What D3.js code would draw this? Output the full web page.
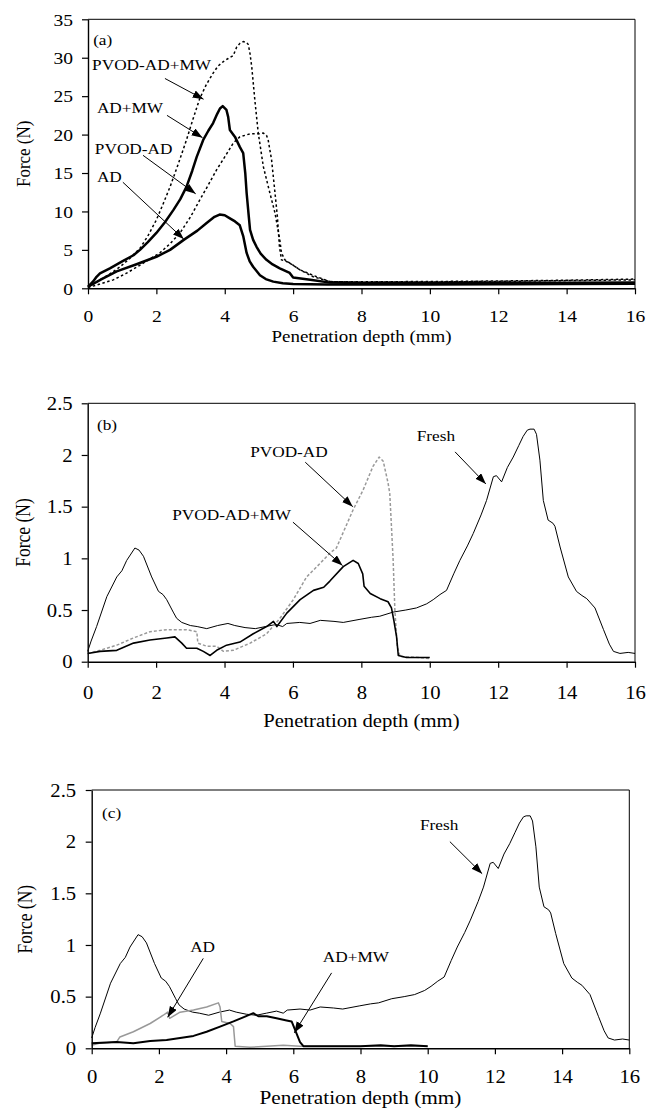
<!DOCTYPE html>
<html><head><meta charset="utf-8">
<script src="https://cdn.jsdelivr.net/npm/d3@7/dist/d3.min.js"></script>
<style>body{margin:0;background:#fff}svg{display:block}</style>
</head><body>
<script>
// ---------- DATA ----------
const xTicks = [0,2,4,6,8,10,12,14,16];
const yTicksA = [0,5,10,15,20,25,30,35];
const yTicksBC = [0,0.5,1,1.5,2,2.5];

// Panel (a)  [depth mm, force N]
const aAD = [[0,0.2],[0.4,1.2],[0.84,2.2],[1.4,3.1],[2.0,4.1],[2.4,5.0],[2.8,6.3],[3.2,7.5],[3.47,8.5],[3.7,9.3],[3.85,9.6],[4.0,9.5],[4.15,9.1],[4.3,8.7],[4.44,8.2],[4.54,6.8],[4.64,4.6],[4.73,3.5],[4.83,2.8],[5.03,1.7],[5.2,1.2],[5.42,0.87],[5.7,0.65],[6.0,0.56],[7,0.5],[8,0.5],[10,0.5],[12,0.52],[14,0.55],[16,0.6]];
const aADMW = [[0,0.2],[0.15,0.9],[0.25,1.5],[0.35,1.95],[0.64,2.6],[1.0,3.5],[1.33,4.3],[1.52,5.0],[1.75,6.0],[2.0,7.2],[2.25,8.6],[2.5,10.2],[2.7,11.6],[2.88,13.2],[3.05,15.3],[3.18,17.1],[3.37,19.3],[3.52,20.5],[3.66,21.5],[3.78,22.7],[3.86,23.4],[3.94,23.7],[4.05,23.2],[4.1,22.3],[4.15,20.6],[4.3,19.7],[4.44,18.4],[4.54,17.6],[4.6,15.0],[4.64,12.4],[4.7,9.5],[4.74,7.6],[4.83,6.3],[4.93,5.4],[5.05,4.5],[5.22,3.7],[5.4,3.1],[5.61,2.6],[5.9,2.0],[6.0,1.4],[6.5,1.1],[7.08,0.74],[8,0.7],[10,0.7],[12,0.72],[14,0.72],[16,0.75]];
const aPVOD = [[0,0.1],[0.35,0.55],[0.74,1.1],[1.1,1.9],[1.52,3.0],[1.8,3.8],[2.1,4.6],[2.4,5.8],[2.69,7.2],[3.0,9.3],[3.27,11.5],[3.5,13.3],[3.76,15.4],[4.0,17.1],[4.25,18.9],[4.44,19.7],[4.74,20.1],[5.0,20.1],[5.13,20.2],[5.22,19.9],[5.27,19.3],[5.37,16.7],[5.47,12.4],[5.54,9.3],[5.6,5.4],[5.66,3.7],[5.8,3.5],[6.0,3.0],[6.2,2.4],[6.59,1.5],[7.08,0.87],[8,0.85],[10,0.88],[12,0.95],[14,1.05],[16,1.2]];
const aPVODMW = [[0,0.1],[0.35,1.1],[0.65,1.9],[0.94,2.8],[1.2,3.8],[1.52,5.2],[1.75,6.8],[2.0,8.9],[2.2,11.0],[2.4,13.2],[2.65,16.3],[2.88,19.3],[3.07,22.0],[3.27,24.7],[3.46,26.5],[3.66,28.0],[3.8,28.9],[3.96,29.5],[4.1,29.9],[4.25,30.3],[4.35,31.4],[4.45,31.9],[4.54,32.1],[4.64,32.0],[4.69,31.7],[4.74,30.5],[4.79,28.8],[4.88,24.5],[4.98,20.2],[5.13,15.8],[5.32,12.4],[5.47,9.8],[5.61,6.3],[5.66,4.6],[5.76,3.7],[6.0,3.0],[6.2,2.4],[6.69,1.5],[7.08,0.87],[8,0.8],[10,0.82],[12,0.9],[14,1.0],[16,1.1]];

// Fresh sample (same curve in panels b and c)
const fresh = [[0,0.1],[0.1,0.2],[0.26,0.34],[0.56,0.63],[0.85,0.82],[1.0,0.88],[1.14,0.98],[1.38,1.10],[1.5,1.08],[1.63,1.02],[1.87,0.82],[2.07,0.68],[2.2,0.65],[2.31,0.6],[2.5,0.48],[2.6,0.42],[2.75,0.38],[3.0,0.35],[3.2,0.34],[3.48,0.32],[3.8,0.35],[4.1,0.37],[4.3,0.35],[4.6,0.33],[4.9,0.32],[5.2,0.34],[5.5,0.36],[5.7,0.34],[5.82,0.37],[6.2,0.38],[6.5,0.37],[6.8,0.40],[7.2,0.39],[7.47,0.38],[7.96,0.41],[8.3,0.43],[8.54,0.44],[8.93,0.48],[9.3,0.5],[9.61,0.52],[9.91,0.56],[10.1,0.6],[10.3,0.65],[10.49,0.69],[10.7,0.85],[10.88,0.98],[11.1,1.12],[11.27,1.24],[11.5,1.42],[11.66,1.56],[11.86,1.79],[11.95,1.8],[12.1,1.74],[12.27,1.88],[12.44,1.98],[12.6,2.09],[12.73,2.18],[12.85,2.24],[12.93,2.25],[13.05,2.25],[13.12,2.2],[13.22,1.95],[13.32,1.56],[13.46,1.37],[13.6,1.34],[13.66,1.31],[13.81,1.11],[14.05,0.82],[14.29,0.68],[14.45,0.64],[14.59,0.61],[14.83,0.52],[15.08,0.31],[15.25,0.17],[15.37,0.10],[15.56,0.08],[15.8,0.09],[16,0.08]];

// Panel (b)
const bPVOD = [[0,0.08],[0.36,0.11],[0.85,0.16],[1.34,0.23],[1.82,0.29],[2.31,0.31],[2.89,0.31],[3.19,0.29],[3.22,0.18],[3.48,0.15],[3.77,0.15],[3.97,0.10],[4.26,0.11],[4.75,0.18],[5.23,0.27],[5.62,0.42],[6.01,0.60],[6.4,0.82],[6.79,0.95],[7.08,1.05],[7.27,1.10],[7.76,1.47],[8.05,1.66],[8.34,1.89],[8.52,1.98],[8.64,1.94],[8.78,1.73],[8.83,1.63],[8.88,1.31],[8.93,0.98],[8.98,0.5],[9.05,0.15],[9.13,0.05],[9.71,0.04],[10,0.03]];
const bPVODMW = [[0,0.08],[0.36,0.1],[0.85,0.11],[1.34,0.18],[1.82,0.21],[2.31,0.23],[2.55,0.24],[2.75,0.18],[2.89,0.13],[3.19,0.13],[3.38,0.10],[3.58,0.06],[3.77,0.11],[4.06,0.16],[4.45,0.19],[4.84,0.27],[5.23,0.34],[5.43,0.39],[5.53,0.34],[5.82,0.47],[6.21,0.60],[6.6,0.69],[6.9,0.72],[7.08,0.78],[7.47,0.92],[7.76,0.98],[7.91,0.95],[8.04,0.85],[8.08,0.73],[8.26,0.66],[8.55,0.61],[8.78,0.58],[8.88,0.52],[8.95,0.40],[9.03,0.24],[9.08,0.06],[9.32,0.04],[10,0.04]];

// Panel (c)
const cAD = [[0,0.03],[0.25,0.05],[0.74,0.06],[0.84,0.11],[1.24,0.16],[1.74,0.24],[2.13,0.32],[2.26,0.35],[2.32,0.29],[2.63,0.35],[3.03,0.37],[3.42,0.40],[3.77,0.44],[3.82,0.40],[3.87,0.26],[4.12,0.24],[4.22,0.21],[4.27,0.02],[4.71,0.01],[5.21,0.02],[5.7,0.03],[6.2,0.02],[7,0.02],[8,0.02],[9,0.02],[10,0.02]];
const cADMW = [[0,0.05],[0.74,0.06],[1.24,0.05],[1.74,0.07],[2.23,0.08],[2.63,0.10],[3.03,0.12],[3.42,0.16],[3.82,0.21],[4.22,0.26],[4.51,0.30],[4.81,0.34],[4.96,0.31],[5.21,0.31],[5.5,0.29],[5.8,0.27],[5.95,0.26],[6.05,0.18],[6.2,0.06],[6.3,0.02],[7,0.02],[8,0.02],[8.6,0.03],[9,0.02],[9.5,0.03],[10,0.02]];

// ---------- LAYOUT ----------
const SX = 1.15;
const FONT = "'Liberation Serif', 'Times New Roman', serif";
const W = 648, H = 1115;
const svg = d3.select("body").append("svg").attr("width", W).attr("height", H)
  .attr("font-family", FONT);
svg.append("rect").attr("width", W).attr("height", H).attr("fill", "#fff");

const defs = svg.append("defs");
defs.append("marker").attr("id","ah").attr("markerUnits","userSpaceOnUse")
  .attr("markerWidth",12).attr("markerHeight",9).attr("refX",11).attr("refY",4)
  .attr("orient","auto").append("path").attr("d","M0,0 L11,4 L0,8 Z").attr("fill","#000");

function txt(g, x, y, s, size, anchor) {
  return g.append("text").attr("transform", `translate(${x},${y}) scale(${SX},1)`)
    .attr("font-family", FONT).attr("fill", "#000")
    .attr("font-size", size).attr("text-anchor", anchor || "start").text(s);
}

function panel(cfg) {
  const x = d3.scaleLinear().domain([0,16]).range([cfg.left, cfg.right]);
  const y = d3.scaleLinear().domain([0, cfg.ymax]).range([cfg.bottom, cfg.top]);
  const g = svg.append("g");
  g.append("path").attr("d", `M${cfg.left},${cfg.top}H${cfg.right}V${cfg.bottom}`)
    .attr("fill","none").attr("stroke","#000").attr("stroke-width",1);
  const line = d3.line().x(d => x(d[0])).y(d => y(d[1]));
  cfg.series.forEach(s => {
    g.append("path").datum(s.data).attr("d", line).attr("fill","none")
      .attr("stroke", s.color).attr("stroke-width", s.width)
      .attr("stroke-dasharray", s.dash || null).attr("stroke-linejoin","round");
  });
  const xa = g.append("g").attr("transform", `translate(0,${cfg.bottom})`)
    .call(d3.axisBottom(x).tickValues(xTicks).tickSize(6).tickSizeOuter(0).tickFormat(d3.format("")));
  xa.attr("font-family", FONT).attr("font-size", null);
  xa.select(".domain").attr("stroke-width",1.4);
  xa.selectAll(".tick line").attr("stroke-width",1.2);
  xa.selectAll("text").attr("y", null).attr("dy", null).attr("font-family", FONT)
    .attr("font-size", cfg.tickSize).attr("fill","#000")
    .attr("transform", `translate(0,${cfg.xLabOff}) scale(${SX},1)`);
  const ya = g.append("g").attr("transform", `translate(${cfg.left},0)`)
    .call(d3.axisLeft(y).tickValues(cfg.yTicks).tickSize(6).tickSizeOuter(0).tickFormat(d3.format("")));
  ya.attr("font-family", FONT).attr("font-size", null);
  ya.select(".domain").attr("stroke-width",1.4);
  ya.selectAll(".tick line").attr("stroke-width",1.2);
  ya.selectAll("text").attr("x", null).attr("dy", "0.34em").attr("font-family", FONT)
    .attr("font-size", cfg.tickSize).attr("fill","#000")
    .attr("transform", `translate(${-cfg.yLabGap},0) scale(${SX},1)`);
  txt(g, (cfg.left+cfg.right)/2, cfg.titleY, "Penetration depth (mm)", cfg.titleSize, "middle");
  g.append("text").attr("transform", `translate(${cfg.ylabX},${(cfg.top+cfg.bottom)/2}) scale(${SX},1) rotate(-90)`)
    .attr("font-family", FONT).attr("fill","#000")
    .attr("font-size", cfg.ylabSize).attr("text-anchor","middle").text("Force (N)");
  cfg.notes.forEach(n => {
    txt(g, x(n.tx), y(n.ty), n.text, cfg.noteSize);
    if (n.a) {
      g.append("line").attr("x1", x(n.a[0])).attr("y1", y(n.a[1]))
        .attr("x2", x(n.a[2])).attr("y2", y(n.a[3]))
        .attr("stroke","#000").attr("stroke-width",1).attr("marker-end","url(#ah)");
    }
  });
}

panel({left:88, right:635, top:19.3, bottom:288.3, ymax:35, yTicks:yTicksA,
  tickSize:17, xLabOff:34, yLabGap:15, titleY:342, titleSize:16.5, ylabX:30, ylabSize:17, noteSize:15,
  series:[
    {data:aAD, color:"#000", width:2.5},
    {data:aADMW, color:"#000", width:2.5},
    {data:aPVOD, color:"#000", width:1.5, dash:"2.5,2.5"},
    {data:aPVODMW, color:"#000", width:1.5, dash:"2.5,2.5"}
  ],
  notes:[
    {text:"(a)", tx:0.15, ty:31.6},
    {text:"PVOD-AD+MW", tx:0.12, ty:28.4, a:[2.25,27.3,3.38,24.6]},
    {text:"AD+MW", tx:0.26, ty:22.8, a:[2.31,22.5,3.35,19.6]},
    {text:"PVOD-AD", tx:0.2, ty:17.5, a:[1.61,17.3,3.15,12.3]},
    {text:"AD", tx:0.26, ty:13.8, a:[1.02,13.8,2.8,6.4]}
  ]});

panel({left:87.7, right:635, top:403.3, bottom:661.7, ymax:2.5, yTicks:yTicksBC,
  tickSize:18, xLabOff:37, yLabGap:15, titleY:727, titleSize:18, ylabX:30, ylabSize:17.5, noteSize:15,
  series:[
    {data:fresh, color:"#000", width:1},
    {data:bPVOD, color:"#999", width:1.5, dash:"3,2"},
    {data:bPVODMW, color:"#000", width:1.6}
  ],
  notes:[
    {text:"(b)", tx:0.27, ty:2.24},
    {text:"PVOD-AD", tx:4.75, ty:1.98, a:[6.36,1.93,7.75,1.5]},
    {text:"PVOD-AD+MW", tx:2.47, ty:1.37, a:[6.0,1.35,7.45,0.93]},
    {text:"Fresh", tx:9.62, ty:2.14, a:[10.74,2.03,11.64,1.72]}
  ]});

panel({left:91.7, right:629.3, top:790, bottom:1048.3, ymax:2.5, yTicks:yTicksBC,
  tickSize:18, xLabOff:35, yLabGap:15.5, titleY:1104, titleSize:18.5, ylabX:32, ylabSize:17.5, noteSize:15,
  series:[
    {data:fresh, color:"#000", width:1},
    {data:cAD, color:"#999", width:1.5},
    {data:cADMW, color:"#000", width:2}
  ],
  notes:[
    {text:"(c)", tx:0.31, ty:2.23},
    {text:"AD", tx:2.93, ty:0.935, a:[3.32,0.87,2.26,0.3]},
    {text:"AD+MW", tx:6.88, ty:0.84, a:[7.14,0.73,6.03,0.15]},
    {text:"Fresh", tx:9.77, ty:2.11, a:[10.66,2.0,11.62,1.69]}
  ]});
</script>
</body></html>
